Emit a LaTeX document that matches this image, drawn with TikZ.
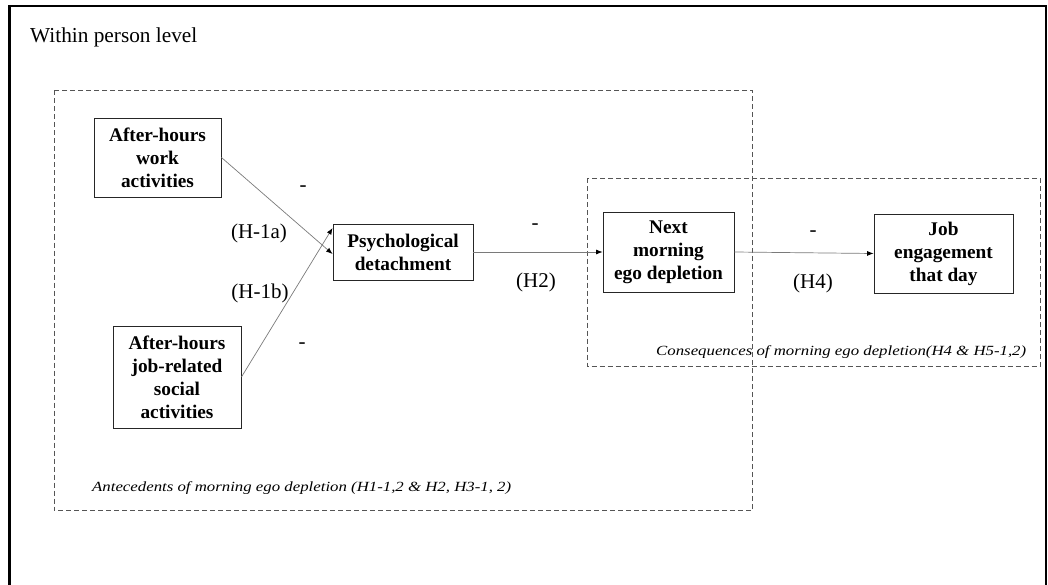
\documentclass[tikz,border=0pt]{standalone}
\usepackage{fontspec}
\usepackage{graphicx}
\setmainfont{Liberation Serif}
\usetikzlibrary{arrows.meta}
\definecolor{dashgray}{HTML}{555555}
\definecolor{arrgray}{HTML}{7A7A7A}
\begin{document}
\begin{tikzpicture}[x=1pt,y=-1pt,
 box/.style={draw=black!85, line width=0.9pt, inner sep=0pt, align=center, font=\fontsize{19.3}{23}\selectfont\bfseries},
 grp/.style={draw=dashgray, line width=1pt, dash pattern=on 5pt off 3pt},
 link/.style={draw=arrgray, line width=0.7pt, -{Latex[length=6.5pt,width=5pt,color=black]}},
 lbl/.style={inner sep=0pt, font=\fontsize{21}{24}\selectfont},
 grpcaption/.style={inner sep=0pt, font=\fontsize{14}{16}\selectfont\itshape}]
\useasboundingbox (0,0) rectangle (1048,585);
% outer frame
\draw[line width=2pt] (8,6.5) -- (1046.5,6.5);
\draw[line width=3pt] (9.5,5.5) -- (9.5,585);
\draw[line width=1.5pt] (1046.2,5.5) -- (1046.2,585);
\node[lbl, anchor=base west, font=\fontsize{21.3}{24}\selectfont] (title) at (30,43) {Within person level};
% group boxes
\draw[grp] (54,90.5) rectangle (752.5,510.5);
\draw[grp] (587,178.5) rectangle (1040.5,366);
\node[grpcaption, anchor=base west] (antcap) at (92,491) {\scalebox{1.2}[1]{Antecedents of morning ego depletion (H1-1,2 \& H2, H3-1, 2)}};
\node[grpcaption, anchor=base west] (concap) at (656,355) {\scalebox{1.2}[1]{Consequences of morning ego depletion(H4 \& H5-1,2)}};
% boxes
\node[box, minimum width=127pt, minimum height=79pt] (A) at (157.5,157.5) {After-hours\\work\\activities};
\node[box, minimum width=128pt, minimum height=102pt] (B) at (177,377) {After-hours\\job-related\\social\\activities};
\node[box, minimum width=140pt, minimum height=56pt] (P) at (403,252) {Psychological\\detachment};
\node[box, minimum width=131pt, minimum height=80pt] (N) at (668.5,252) {Next\\morning\\ego depletion};
\node[box, minimum width=139pt, minimum height=79pt] (J) at (943.5,253.5) {Job\\engagement\\that day};
% connectors
\draw[link] (A.east) -- ([yshift=-2pt]P.west);
\draw[link] (B.east) -- ([yshift=24pt]P.west);
\draw[link] (P.east) -- (N.west);
\draw[link] (N.east) -- (J.west);
% labels
\node[lbl] (m1) at (303,189) {-};
\node[lbl] (h1a) at (259,233) {(H-1a)};
\node[lbl] (h1b) at (260,293) {(H-1b)};
\node[lbl] (m2) at (302,346) {-};
\node[lbl] (m3) at (535,227) {-};
\node[lbl] (h2) at (536,282) {(H2)};
\node[lbl] (m4) at (813,234) {-};
\node[lbl] (h4) at (813,283) {(H4)};
\end{tikzpicture}
\end{document}
